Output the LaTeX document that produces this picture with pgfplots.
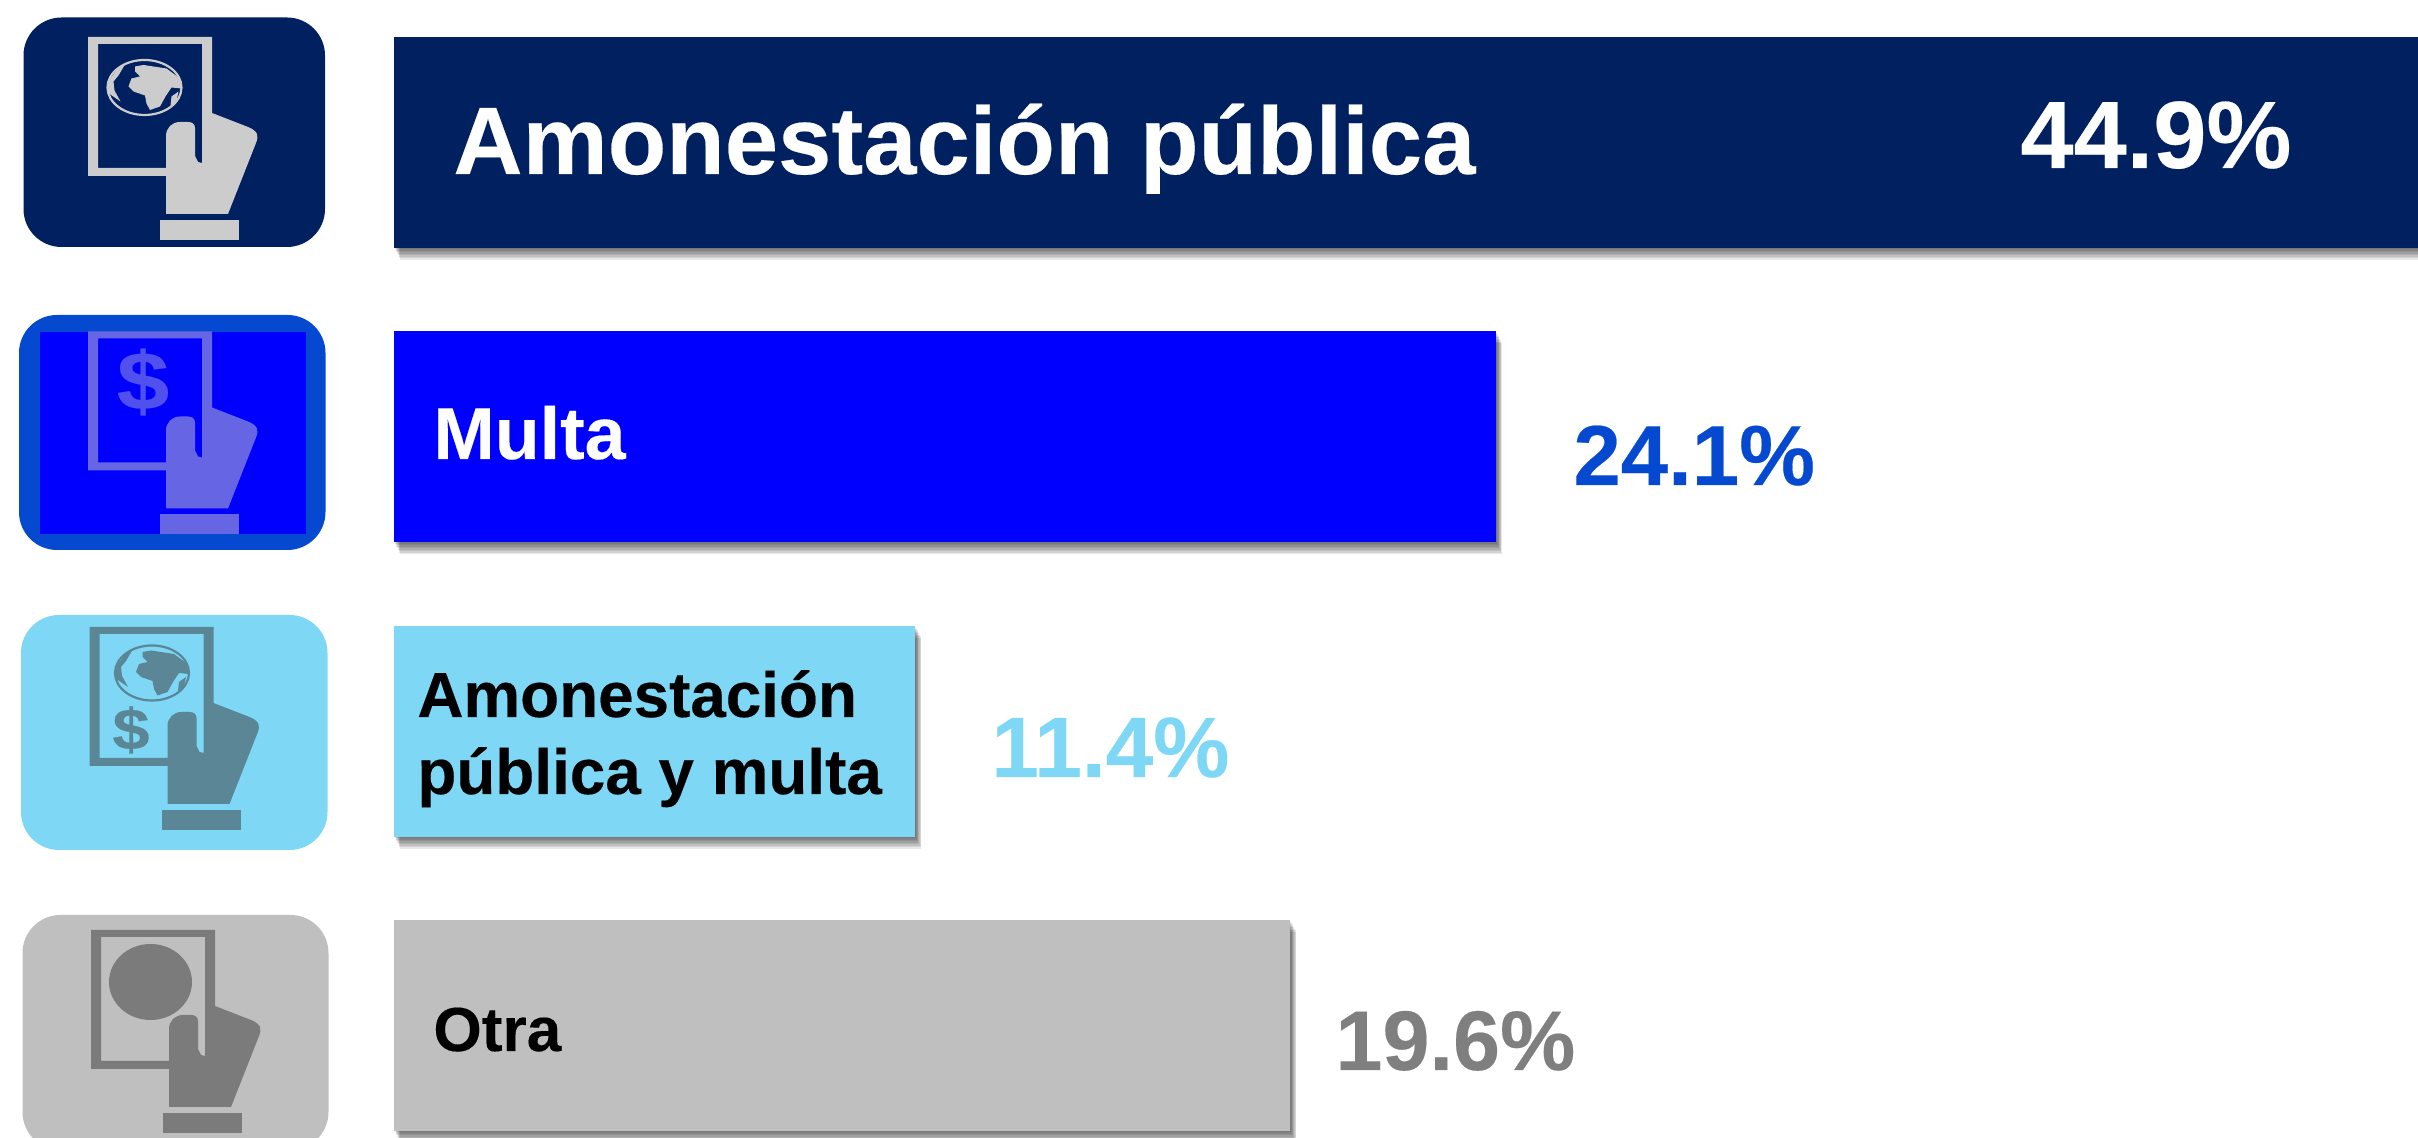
\documentclass[border=0pt]{standalone}
\usepackage{pgfplots}
\usepackage{pgfplotstable}
\usepackage{fontspec}
\setmainfont{Liberation Sans}[BoldFeatures={FakeBold=0.25}]
\pgfplotsset{compat=1.18}
\definecolor{navy}{HTML}{002060}
\definecolor{pureblue}{HTML}{0000FF}
\definecolor{midblue}{HTML}{0549D0}
\definecolor{sky}{HTML}{7DD7F5}
\definecolor{lgrey}{HTML}{BFBFBF}
\definecolor{dgrey}{HTML}{7F7F7F}
\definecolor{HandA}{HTML}{CCCCCC}
\definecolor{HandB}{HTML}{6666E5}
\definecolor{DolB}{HTML}{5050EE}
\definecolor{HandC}{HTML}{5A8696}
\definecolor{HandD}{HTML}{7B7B7B}
\pgfplotstableread{
pos value
0 44.9
}\tA
\pgfplotstableread{
pos value
1 24.1
}\tB
\pgfplotstableread{
pos value
2 11.4
}\tC
\pgfplotstableread{
pos value
3 19.6
}\tD
% one soft-shadow layer under a bar
\newcommand{\sbl}[3]{\addplot[xbar,fill=black,draw=none,fill opacity=0.09,xshift=#2,yshift=#3] table[x=value,y=pos]{#1};}
\newcommand{\shadowbar}[1]{%
  \sbl{#1}{0.5pt}{-0.75pt}\sbl{#1}{0.85pt}{-1.5pt}\sbl{#1}{1.2pt}{-2.25pt}\sbl{#1}{1.55pt}{-3pt}%
  \sbl{#1}{1.9pt}{-3.75pt}\sbl{#1}{2.25pt}{-4.5pt}\sbl{#1}{2.6pt}{-5.25pt}\sbl{#1}{3pt}{-6pt}}
% icon: hand holding a card, drawn in pixel units; #1 dx, #2 dy, #3 colour
\newcommand{\handicon}[3]{%
  \begin{scope}[shift={(#1,#2)}]
    \fill[#3,even odd rule]
      (88,37)--(212,37)--(212,113)--(248,127)
      .. controls (258,131) and (259,136) .. (256,143)
      --(228,214)--(166,214)--(166,176)--(88,176)--cycle
      (98,44)--(202,44)--(202,163)--(198,162)--(195,156)--(195,128)
      .. controls (195,124) and (192,122) .. (188,122)
      --(180,122) .. controls (172,122) and (166,128) .. (166,136)
      --(166,168)--(98,168)--cycle;
    \fill[#3] (160,220) rectangle (239,240);
  \end{scope}}
% small globe; #1 cx, #2 cy, #3 colour
\newcommand{\globeicon}[3]{%
  \begin{scope}[shift={(#1,#2)}]
    \draw[#3,line width=1.1pt] (0,0) ellipse [x radius=37,y radius=27.5];
    \fill[#3] (-9.5,-21)--(-1,-22.5)--(22,-19)--(35.5,-9)--(37,1)--(27,0)--(21,9)--(15.5,19)--(5.5,22.5)
      --(2,16)--(0.5,8)--(-11,4)--(-16,-1)--(-13,-9)--(-4.5,-11)--(-9.5,-16)--cycle;
    \fill[#3] (-37,5)--(-37,-5)--(-28,-17)--(-19,-24)--(-26,-12)--(-31,-6)--(-30,3)--(-24,14)--cycle;
    \fill[#3] (27,9)--(34,4)--(32,14)--(26,18)--cycle;
  \end{scope}}
\newcommand{\lbl}[5]{\node[anchor=base west,inner sep=0pt,text=#4] at (#1,#2) {\fontsize{#3pt}{#3pt}\selectfont\bfseries #5};}
\begin{document}
\begin{tikzpicture}
\useasboundingbox (0,0) rectangle (1209pt,569pt);
\begin{axis}[
  at={(0,0)},anchor=south west,
  scale only axis,width=1209pt,height=569pt,
  hide axis,
  xmin=-8.6158,xmax=44.2598,
  ymin=-0.48416,ymax=3.38226,
  y dir=reverse,
  clip=true,
  bar width=105.5pt,
  every axis plot/.append style={bar shift=0pt},
]
\shadowbar{\tA}
\addplot[xbar,fill=navy,draw=none] table[x=value,y=pos]{\tA};
\shadowbar{\tB}
\addplot[xbar,fill=pureblue,draw=none] table[x=value,y=pos]{\tB};
\shadowbar{\tC}
\addplot[xbar,fill=sky,draw=none] table[x=value,y=pos]{\tC};
\shadowbar{\tD}
\addplot[xbar,fill=lgrey,draw=none] table[x=value,y=pos]{\tD};
\end{axis}
\begin{scope}[x=0.5pt,y=-0.5pt,shift={(0pt,569pt)}]
  \clip (0,0) rectangle (2418,1138);
  % icon 1
  \fill[navy,rounded corners=19pt] (23.5,17.5) rectangle (325,247);
  \handicon{0}{0}{HandA}
  \globeicon{144.5}{87.5}{HandA}
  % icon 2
  \fill[midblue,rounded corners=19pt] (19,315) rectangle (325.5,550);
  \fill[pureblue] (40,332) rectangle (306,534);
  \begin{scope}
    \clip (40,332) rectangle (306,534);
    \handicon{0}{294.5}{HandB}
  \end{scope}
  \node[text=DolB,inner sep=0pt,anchor=center,xscale=1.15] at (143,382) {\fontsize{41pt}{41pt}\selectfont\bfseries\$};
  % icon 3
  \fill[sky,rounded corners=19pt] (21,615) rectangle (327.5,850);
  \handicon{1.5}{590}{HandC}
  \globeicon{152}{673}{HandC}
  \node[text=HandC,inner sep=0pt,anchor=center,xscale=1.15] at (131,730) {\fontsize{29pt}{29pt}\selectfont\bfseries\$};
  % icon 4
  \fill[lgrey,rounded corners=19pt] (22.5,915) rectangle (328.5,1150);
  \handicon{3}{893}{HandD}
  \fill[HandD] (150.5,982) ellipse [x radius=41.5,y radius=38];
  % texts
  \lbl{453}{174}{47.9}{white}{Amonestación pública}
  \lbl{2020}{168}{47.8}{white}{44.9\%}
  \lbl{433}{459}{36.8}{white}{Multa}
  \lbl{1573}{485}{42.6}{midblue}{24.1\%}
  \lbl{417}{717}{31.9}{black}{Amonestación}
  \lbl{417}{794}{31.9}{black}{pública y multa}
  \lbl{991}{777}{42.8}{sky}{11.4\%}
  \lbl{433}{1051}{31.1}{black}{Otra}
  \lbl{1335}{1070}{42.3}{dgrey}{19.6\%}
\end{scope}
\end{tikzpicture}
\end{document}
